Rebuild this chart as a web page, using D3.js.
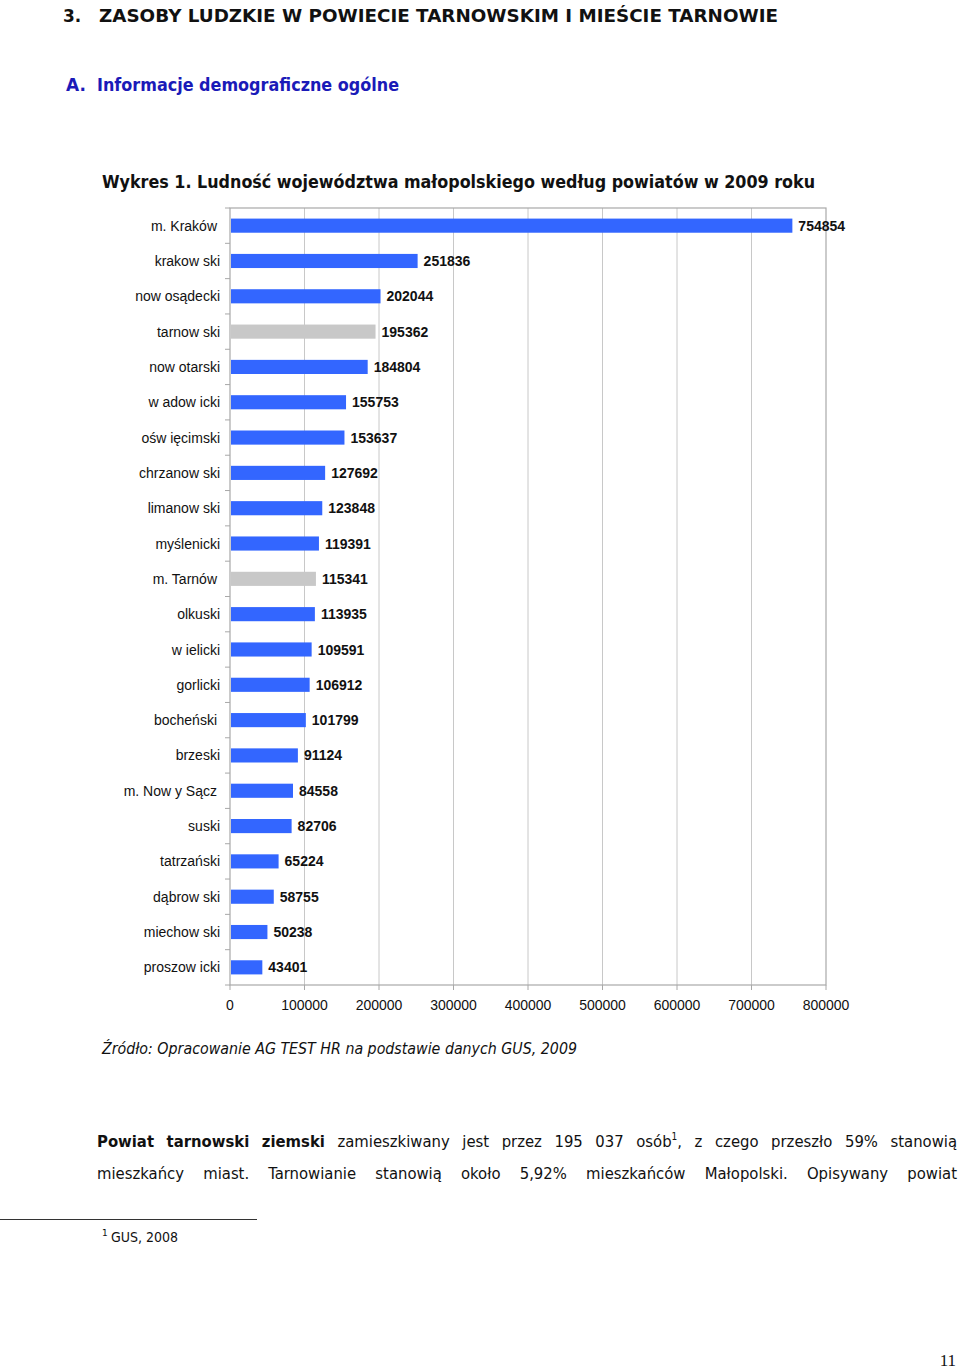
<!DOCTYPE html>
<html><head><meta charset="utf-8">
<script src="https://cdn.jsdelivr.net/npm/d3@7"></script>
<style>body{margin:0;background:#fff}svg{display:block}</style>
</head><body>
<script>
const categories = ["m. Kraków","krakow ski","now osądecki","tarnow ski","now otarski","w adow icki","ośw ięcimski","chrzanow ski","limanow ski","myślenicki","m. Tarnów","olkuski","w ielicki","gorlicki","bocheński","brzeski","m. Now y Sącz","suski","tatrzański","dąbrow ski","miechow ski","proszow icki"];
const values = [754854,251836,202044,195362,184804,155753,153637,127692,123848,119391,115341,113935,109591,106912,101799,91124,84558,82706,65224,58755,50238,43401];
const highlighted = ["tarnow ski","m. Tarnów"];
const xTicks = [0,100000,200000,300000,400000,500000,600000,700000,800000];

const W = 960, H = 1369;
const svg = d3.select("body").append("svg").attr("width", W).attr("height", H);

function fitText(sel, len){ sel.attr("textLength", len).attr("lengthAdjust","spacingAndGlyphs"); return sel; }

// Headings
svg.append("text").attr("x",63).attr("y",22).attr("font-family","DejaVu Sans").attr("font-weight","bold").attr("font-size",17).attr("fill","#111").text("3.");
fitText(svg.append("text").attr("x",99).attr("y",22).attr("font-family","DejaVu Sans").attr("font-weight","bold").attr("font-size",17).attr("fill","#111").text("ZASOBY LUDZKIE W POWIECIE TARNOWSKIM I MIEŚCIE TARNOWIE"),679);
svg.append("text").attr("x",66).attr("y",91).attr("font-family","DejaVu Sans").attr("font-weight","bold").attr("font-size",17).attr("fill","#1a1ab8").text("A.");
fitText(svg.append("text").attr("x",97).attr("y",91).attr("font-family","DejaVu Sans").attr("font-weight","bold").attr("font-size",17).attr("fill","#1a1ab8").text("Informacje demograficzne ogólne"),302);
fitText(svg.append("text").attr("x",102).attr("y",188).attr("font-family","DejaVu Sans").attr("font-weight","bold").attr("font-size",17).attr("fill","#111").text("Wykres 1. Ludność województwa małopolskiego według powiatów w 2009 roku"),713);

// Chart
const x = d3.scaleLinear().domain([0,800000]).range([230,826]);
const y = d3.scaleBand().domain(categories).range([208,985]).paddingInner(0.6).paddingOuter(0.3);
const step = y.step(), gapHalf = (step - y.bandwidth())/2;

const g = svg.append("g");
// gridlines
g.selectAll("line.grid").data(xTicks.slice(1,-1)).join("line")
  .attr("x1",d=>x(d)).attr("x2",d=>x(d)).attr("y1",208).attr("y2",985)
  .attr("stroke","#c8c8c8").attr("stroke-width",1);
// frame
g.append("rect").attr("x",x(0)).attr("y",208).attr("width",x(800000)-x(0)).attr("height",985-208)
  .attr("fill","none").attr("stroke","#a8a8a8").attr("stroke-width",1.2);
// bottom ticks
g.selectAll("line.xt").data(xTicks).join("line")
  .attr("x1",d=>x(d)).attr("x2",d=>x(d)).attr("y1",985).attr("y2",990)
  .attr("stroke","#a8a8a8");
// left ticks at band boundaries
const bounds = categories.map(c=>y(c)-gapHalf).concat([985]);
g.selectAll("line.yt").data(bounds).join("line")
  .attr("x1",225).attr("x2",230).attr("y1",d=>d).attr("y2",d=>d).attr("stroke","#a8a8a8");

// bars
g.selectAll("rect.bar").data(categories).join("rect")
  .attr("x",x(0)+1).attr("y",c=>y(c)).attr("width",(c,i)=>x(values[i])-x(0)-1).attr("height",y.bandwidth())
  .attr("fill",c=>highlighted.includes(c)?"#c8c8c8":"#3366ff");

// value labels
g.selectAll("text.val").data(categories).join("text")
  .attr("x",(c,i)=>x(values[i])+6).attr("y",c=>y(c)+y.bandwidth()/2).attr("dy","0.36em")
  .attr("font-family","Liberation Sans, Arial").attr("font-weight","bold").attr("font-size",14).attr("fill","#111")
  .text((c,i)=>values[i]);

// category labels
g.selectAll("text.cat").data(categories).join("text")
  .attr("x",c=>c.startsWith("m. ")||c==="bocheński"?217:220).attr("y",c=>y(c)+y.bandwidth()/2).attr("dy","0.36em")
  .attr("text-anchor","end").attr("font-family","Liberation Sans, Arial").attr("font-size",14).attr("fill","#111")
  .text(c=>c);

// x tick labels
g.selectAll("text.xl").data(xTicks).join("text")
  .attr("x",d=>x(d)).attr("y",1010).attr("text-anchor","middle")
  .attr("font-family","Liberation Sans, Arial").attr("font-size",14).attr("fill","#111").text(d=>d);

// Source
fitText(svg.append("text").attr("x",102).attr("y",1054).attr("font-family","DejaVu Sans").attr("font-style","italic").attr("font-size",16).attr("fill","#111").text("Źródło: Opracowanie AG TEST HR na podstawie danych GUS, 2009"),475);

// Paragraph (justified)
const lines = [
  [{t:"Powiat",b:1},{t:"tarnowski",b:1},{t:"ziemski",b:1},{t:"zamieszkiwany"},{t:"jest"},{t:"przez"},{t:"195"},{t:"037"},{t:"osób",sup:"1"},{t:"z"},{t:"czego"},{t:"przeszło"},{t:"59%"},{t:"stanowią"}],
  [{t:"mieszkańcy"},{t:"miast."},{t:"Tarnowianie"},{t:"stanowią"},{t:"około"},{t:"5,92%"},{t:"mieszkańców"},{t:"Małopolski."},{t:"Opisywany"},{t:"powiat"}]
];
const lineY = [1147,1179];
const fs = 16.5;
lines.forEach((words,li)=>{
  const nodes = words.map(w=>{
    const t = svg.append("text").attr("y",lineY[li]).attr("font-family","DejaVu Sans Condensed, DejaVu Sans").attr("font-stretch","condensed")
      .attr("font-size",fs).attr("font-weight",w.b?"bold":"normal").attr("fill","#111");
    t.append("tspan").text(w.t);
    if(w.sup){ t.append("tspan").attr("dy",-7).attr("font-size",10).text(w.sup); t.append("tspan").attr("dy",7).text(","); }
    return t;
  });
  const widths = nodes.map(n=>n.node().getComputedTextLength());
  const total = widths.reduce((a,b)=>a+b,0);
  const gap = (957-97-total)/(words.length-1);
  let cx = 97;
  nodes.forEach((n,i)=>{ n.attr("x",cx); cx += widths[i]+gap; });
});

// footnote
svg.append("line").attr("x1",0).attr("x2",257).attr("y1",1219.5).attr("y2",1219.5).attr("stroke","#333").attr("stroke-width",1);
svg.append("text").attr("x",102).attr("y",1236).attr("font-family","DejaVu Sans").attr("font-size",9).attr("fill","#111").text("1");
svg.append("text").attr("x",111).attr("y",1242).attr("font-family","DejaVu Sans Condensed, DejaVu Sans").attr("font-stretch","condensed").attr("font-size",14).attr("fill","#111").text("GUS, 2008");

// page number
svg.append("text").attr("x",956).attr("y",1366).attr("text-anchor","end").attr("font-family","Liberation Serif").attr("font-size",17).attr("fill","#111").text("11");
</script>
</body></html>
